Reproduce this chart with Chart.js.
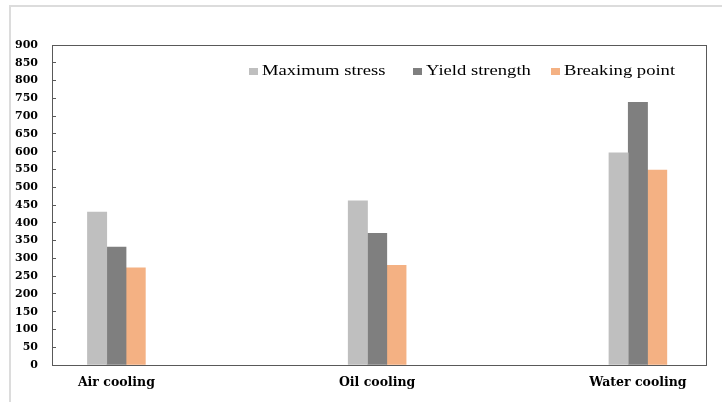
<!DOCTYPE html>
<html>
<head>
<meta charset="utf-8">
<script src="https://cdn.jsdelivr.net/npm/chart.js"></script>
<style>
  html, body { margin: 0; padding: 0; background: #fff; }
  #wrap { position: relative; width: 722px; height: 402px; overflow: hidden; }
  #outer { position: absolute; left: 9px; top: 5px; right: 0; bottom: 0;
           border-top: 2px solid #dcdcdc; border-left: 2px solid #dcdcdc; }
  canvas { position: absolute; left: 0; top: 0; }
  .lg-box { position: absolute; width: 9px; height: 7px; }
  .lg-text { position: absolute; font-family: "Liberation Serif", serif; font-size: 15.5px;
             line-height: 16px; color: #000; white-space: nowrap;
             transform: scaleX(1.2); transform-origin: 0 0; }
</style>
</head>
<body>
<div id="wrap">
  <div id="outer"></div>
  <canvas id="chart" width="722" height="402"></canvas>
</div>
<script>
// data
const categories = ['Air cooling', 'Oil cooling', 'Water cooling'];
const seriesNames = ['Maximum stress', 'Yield strength', 'Breaking point'];
const maxStress = [430, 462, 597];
const yieldStrength = [332, 370, 739];
const breakingPoint = [273, 280, 548];
const yTicks = [0, 50, 100, 150, 200, 250, 300, 350, 400, 450, 500, 550, 600, 650, 700, 750, 800, 850, 900];

const colors = ['#bfbfbf', '#7f7f7f', '#f4b183'];
const legendX = [249, 413, 551];

const toPoints = arr => arr.map((v, i) => ({ x: i, y: v }));
const series = [maxStress, yieldStrength, breakingPoint];

// frame round the plot area
const frame = {
  id: 'frame',
  afterDraw(chart) {
    const { ctx, chartArea: a } = chart;
    ctx.save();
    ctx.strokeStyle = '#595959';
    ctx.lineWidth = 1;
    ctx.strokeRect(Math.round(a.left) + 0.5, Math.round(a.top) + 0.5,
                   Math.round(a.right - a.left) - 1, Math.round(a.bottom - a.top));
    ctx.restore();
  }
};

new Chart('chart', {
  type: 'bar',
  data: {
    datasets: series.map((s, i) => ({
      label: seriesNames[i],
      data: toPoints(s),
      backgroundColor: colors[i],
      borderWidth: 0,
      barThickness: 19.3
    }))
  },
  options: {
    responsive: false,
    animation: false,
    layout: { padding: { left: 0, top: 45, right: 15, bottom: 0 } },
    plugins: {
      legend: { display: false },
      tooltip: { enabled: false }
    },
    scales: {
      x: {
        type: 'linear',
        offset: false,
        min: -0.247,
        max: 2.265,
        afterBuildTicks: s => { s.ticks = categories.map((c, i) => ({ value: i })); },
        afterFit: s => { s.height = 37; },
        grid: { display: false, offset: false },
        border: { display: false },
        ticks: {
          padding: 2,
          color: '#000',
          font: { family: 'DejaVu Serif', weight: 'bold', size: 12.5 },
          callback: v => categories[v]
        }
      },
      y: {
        min: 0,
        max: 900,
        afterBuildTicks: s => { s.ticks = yTicks.map(v => ({ value: v })); },
        afterFit: s => { s.width = 52; },
        grid: { drawOnChartArea: false, drawTicks: true, tickLength: -4, color: '#595959' },
        border: { display: false },
        ticks: {
          padding: 18,
          color: '#000',
          font: { family: 'DejaVu Serif', weight: 'bold', size: 11 }
        }
      }
    }
  },
  plugins: [frame]
});

// legend inside the plot area, top right
const wrap = document.getElementById('wrap');
seriesNames.forEach((name, i) => {
  const box = document.createElement('div');
  box.className = 'lg-box';
  box.style.left = legendX[i] + 'px';
  box.style.top = '68px';
  box.style.background = colors[i];
  wrap.appendChild(box);
  const t = document.createElement('div');
  t.className = 'lg-text';
  t.style.left = (legendX[i] + 13) + 'px';
  t.style.top = '62px';
  t.textContent = name;
  wrap.appendChild(t);
});
</script>
</body>
</html>
